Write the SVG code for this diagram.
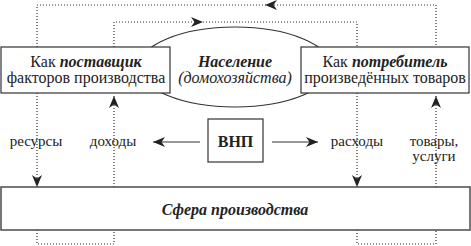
<svg xmlns="http://www.w3.org/2000/svg" width="471" height="246" viewBox="0 0 471 246">
<style>
.box{fill:#fff;stroke:#333;stroke-width:1.2}
.dot{fill:none;stroke:#333;stroke-width:1.2;stroke-dasharray:1 2}
.sol{fill:none;stroke:#333;stroke-width:1.2}
text{font-family:"Liberation Serif","DejaVu Serif",serif;fill:#222;font-size:16px;text-anchor:middle}
.lbl{font-size:15px}
.bi{font-weight:bold;font-style:italic}
.i{font-style:italic}
</style>
<defs>
<marker id="ah" markerUnits="userSpaceOnUse" markerWidth="13" markerHeight="10" refX="12" refY="5" orient="auto">
<path d="M0,0 L12,5 L0,10 L3.5,5 Z" fill="#222"/>
</marker>
</defs>
<g id="ellipse-node">
<ellipse cx="235" cy="67" rx="96" ry="40" fill="#fff" stroke="#333" stroke-width="1.2"/>
<text x="235" y="67" class="bi">Население</text>
<text x="235" y="83" class="i">(домохозяйства)</text>
</g>
<g id="connectors">
<path class="dot" d="M37,47 V5 H436 V47"/>
<path d="M280,5 H265" stroke="none" marker-end="url(#ah)"/>
<path class="dot" d="M114,47 V22 H357 V47"/>
<path d="M190,22 H203" stroke="none" marker-end="url(#ah)"/>
<path class="dot" d="M37,93 V187" marker-end="url(#ah)"/>
<path class="dot" d="M114,187 V96" marker-end="url(#ah)"/>
<path class="dot" d="M357,93 V187" marker-end="url(#ah)"/>
<path class="dot" d="M436,187 V96" marker-end="url(#ah)"/>
<path class="dot" d="M37,230 V244 H114 V230"/>
<path class="dot" d="M357,230 V244 H436 V230"/>
<path class="sol" d="M200,142 H153" marker-end="url(#ah)"/>
<path class="sol" d="M272,142 H318" marker-end="url(#ah)"/>
</g>
<g id="supplier">
<rect class="box" x="1" y="47" width="169" height="46"/>
<text x="86" y="67">Как <tspan class="bi">поставщик</tspan></text>
<text x="86" y="83">факторов производства</text>
</g>
<g id="consumer">
<rect class="box" x="301" y="47" width="168" height="46"/>
<text x="385" y="67">Как <tspan class="bi">потребитель</tspan></text>
<text x="385" y="83">произведённых товаров</text>
</g>
<g id="gnp">
<rect class="box" x="208" y="119" width="55" height="43"/>
<text x="235.5" y="147" font-weight="bold" font-size="18">ВНП</text>
</g>
<g id="production">
<rect x="1" y="187" width="469" height="43" fill="#fff" stroke="#555" stroke-width="1.6"/>
<text x="235" y="215" class="bi" font-size="17.5">Сфера производства</text>
</g>
<g id="labels" class="lbl">
<text class="lbl" x="36" y="146">ресурсы</text>
<text class="lbl" x="113" y="146">доходы</text>
<text class="lbl" x="357" y="146">расходы</text>
<text class="lbl" x="434" y="146">товары,</text>
<text class="lbl" x="434" y="161">услуги</text>
</g>
</svg>
